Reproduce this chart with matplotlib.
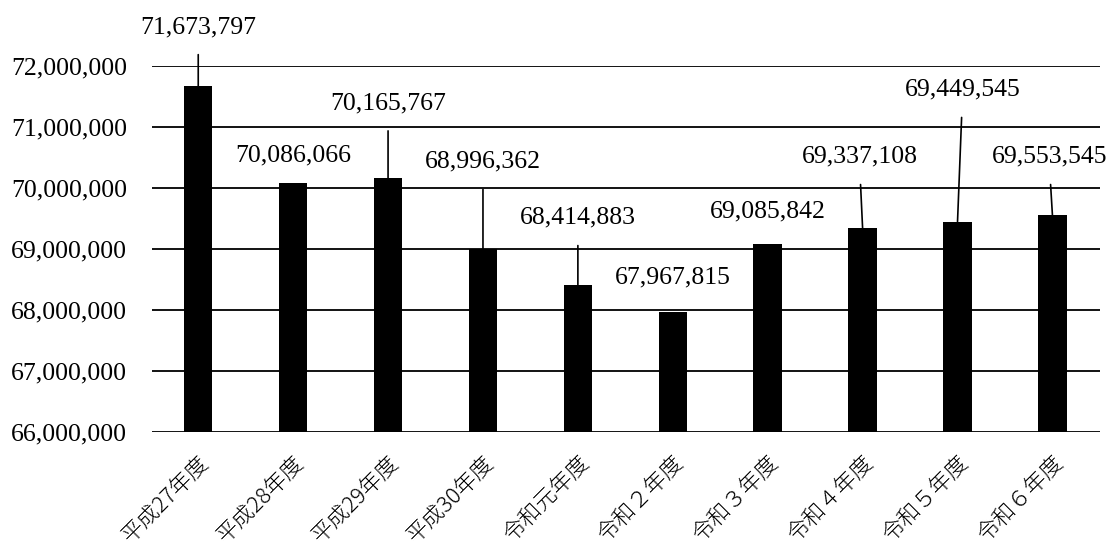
import numpy as np
import matplotlib.pyplot as plt

plt.rcParams['font.family'] = ['Liberation Serif', 'Noto Sans CJK JP']

# 年度別の金額
nendo = ['平成27年度', '平成28年度', '平成29年度', '平成30年度', '令和元年度',
         '令和２年度', '令和３年度', '令和４年度', '令和５年度', '令和６年度']
kingaku = [71673797, 70086066, 70165767, 68996362, 68414883,
           67967815, 69085842, 69337108, 69449545, 69553545]
y_ticks = [66000000, 67000000, 68000000, 69000000, 70000000, 71000000, 72000000]

# ラベルの配置 (横ずれ, 高さ) と引き出し線の有無
label_dx = [0.0, 0.0, 0.0, 0.0, 0.0, 0.0, 0.0, -0.03, 0.05, -0.03]
label_y = [72.64e6, 70.54e6, 71.39e6, 70.43e6, 69.51e6,
           68.54e6, 69.61e6, 70.51e6, 71.61e6, 70.51e6]
leader = [True, False, True, True, True, False, False, True, True, True]

fig = plt.figure(figsize=(11.11, 5.5), dpi=100)
ax = fig.add_axes([0.137, 0.2145, 0.853, 0.6655])

x = np.arange(len(nendo))
ax.bar(x, kingaku, width=0.3, color='black', zorder=3)

ax.set_ylim(66000000, 72000000)
ax.set_xlim(-0.485, 9.5)
ax.set_yticks(y_ticks)
ax.set_yticklabels([f'{v:,}' for v in y_ticks], fontsize=18.5)
ax.yaxis.grid(True, color='black', linewidth=1.3, zorder=0)
ax.set_axisbelow(True)
for s in ax.spines.values():
    s.set_visible(False)
ax.tick_params(axis='y', length=0, pad=18)
ax.tick_params(axis='x', length=0, pad=14)

ax.set_xticks(x)
ax.set_xticklabels(nendo, rotation=45, ha='right', va='top',
                   rotation_mode='anchor', fontsize=16,
                   family=['Noto Sans CJK JP'])
for lbl in ax.get_xticklabels():
    lbl.set_fontweight('light')

for i, v in enumerate(kingaku):
    props = None
    if leader[i]:
        props = dict(arrowstyle='-', color='black', lw=1.2,
                     shrinkA=10, shrinkB=0, relpos=(0.5, 0.0))
    ax.annotate(f'{v:,}', xy=(i, v), xytext=(i + label_dx[i], label_y[i]),
                ha='center', va='center', fontsize=18.5,
                arrowprops=props, annotation_clip=False, zorder=4)

fig.savefig('out.png', dpi=100)
